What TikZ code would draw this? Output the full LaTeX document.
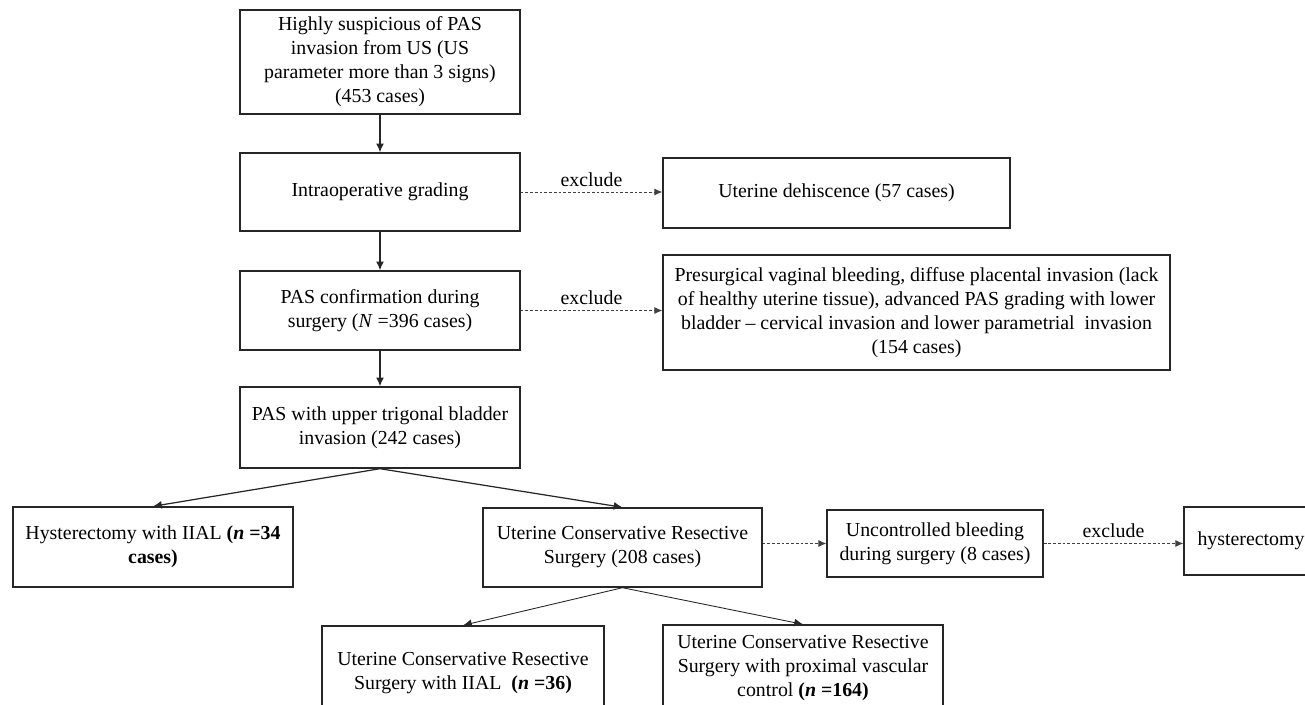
\documentclass[tikz,border=0pt]{standalone}
\usepackage{fontspec}
\usetikzlibrary{arrows.meta}
\setmainfont{Liberation Serif}
\tikzset{
  box/.style={draw=black!85, line width=0.8pt, align=center, inner sep=0pt,
    font=\fontsize{11.3}{13.7}\selectfont},
  tip/.style={-{Latex[length=5pt,width=4.5pt]}},
  excl/.style={dash pattern=on 1.6pt off 1.1pt, draw=black!75, line width=0.5pt,
    -{Latex[length=4.5pt,width=4pt]}},
  lbl/.style={font=\fontsize{11.3}{13.7}\selectfont, above, inner sep=3pt}
}
\begin{document}
\begin{tikzpicture}[x=0.02cm, y=-0.02cm]
  \clip[use as bounding box] (0,0) rectangle (1305,704);
  \draw
    (380,62) node[box, minimum width=5.6cm, minimum height=2.08cm] (us)
      {Highly suspicious of PAS\\invasion from US (US\\parameter more than 3 signs)\\(453 cases)}
    (380,192) node[box, minimum width=5.6cm, minimum height=1.56cm] (grading)
      {Intraoperative grading}
    (836.5,193) node[box, minimum width=6.94cm, minimum height=1.4cm] (dehisc)
      {Uterine dehiscence (57 cases)}
    (380,310.5) node[box, minimum width=5.6cm, minimum height=1.58cm] (confirm)
      {PAS confirmation during\\surgery (\textit{N} =396 cases)}
    (916.5,312.5) node[box, minimum width=10.14cm, minimum height=2.3cm] (advanced)
      {Presurgical vaginal bleeding, diffuse placental invasion (lack\\of healthy uterine tissue), advanced PAS grading with lower\\bladder -- cervical invasion and lower parametrial\ \ invasion\\(154 cases)}
    (380,427.5) node[box, minimum width=5.6cm, minimum height=1.62cm] (trigonal)
      {PAS with upper trigonal bladder\\invasion (242 cases)}
    (153,547) node[box, minimum width=5.6cm, minimum height=1.6cm] (hystiial)
      {Hysterectomy with IIAL \textbf{(\textit{n} =34}\\\textbf{cases)}}
    (622.5,547.5) node[box, minimum width=5.58cm, minimum height=1.58cm] (ucrs)
      {Uterine Conservative Resective\\Surgery (208 cases)}
    (935,543.5) node[box, minimum width=4.32cm, minimum height=1.34cm] (bleeding)
      {Uncontrolled bleeding\\during surgery (8 cases)}
    (1251,541) node[box, minimum width=2.68cm, minimum height=1.36cm] (hyst)
      {hysterectomy}
    (463,673) node[box, minimum width=5.64cm, minimum height=1.88cm] (ucrsiial)
      {Uterine Conservative Resective\\Surgery with IIAL\ \ \textbf{(\textit{n} =36)}}
    (803,668) node[box, minimum width=5.6cm, minimum height=1.72cm] (ucrspvc)
      {Uterine Conservative Resective\\Surgery with proximal vascular\\control \textbf{(\textit{n} =164)}};
  % main flow
  \begin{scope}[tip, line width=0.7pt, black!85]
    \draw (us) to (grading);
    \draw (grading) to (confirm);
    \draw (confirm) to (trigonal);
    \draw (trigonal.south) to (hystiial.north);
    \draw (trigonal.south) to (ucrs.north);
  \end{scope}
  \begin{scope}[tip, line width=0.5pt, black!85]
    \draw (ucrs.south) to (ucrsiial.north);
    \draw (ucrs.south) to (ucrspvc.north);
  \end{scope}
  % exclusions
  \begin{scope}[excl]
    \draw (grading.east) to node[lbl] {exclude} (grading.east -| dehisc.west);
    \draw (confirm.east) to node[lbl] {exclude} (confirm.east -| advanced.west);
    \draw (bleeding.west -| ucrs.east) to (bleeding.west);
    \draw (bleeding.east) to node[lbl] {exclude} (bleeding.east -| hyst.west);
  \end{scope}
\end{tikzpicture}
\end{document}
